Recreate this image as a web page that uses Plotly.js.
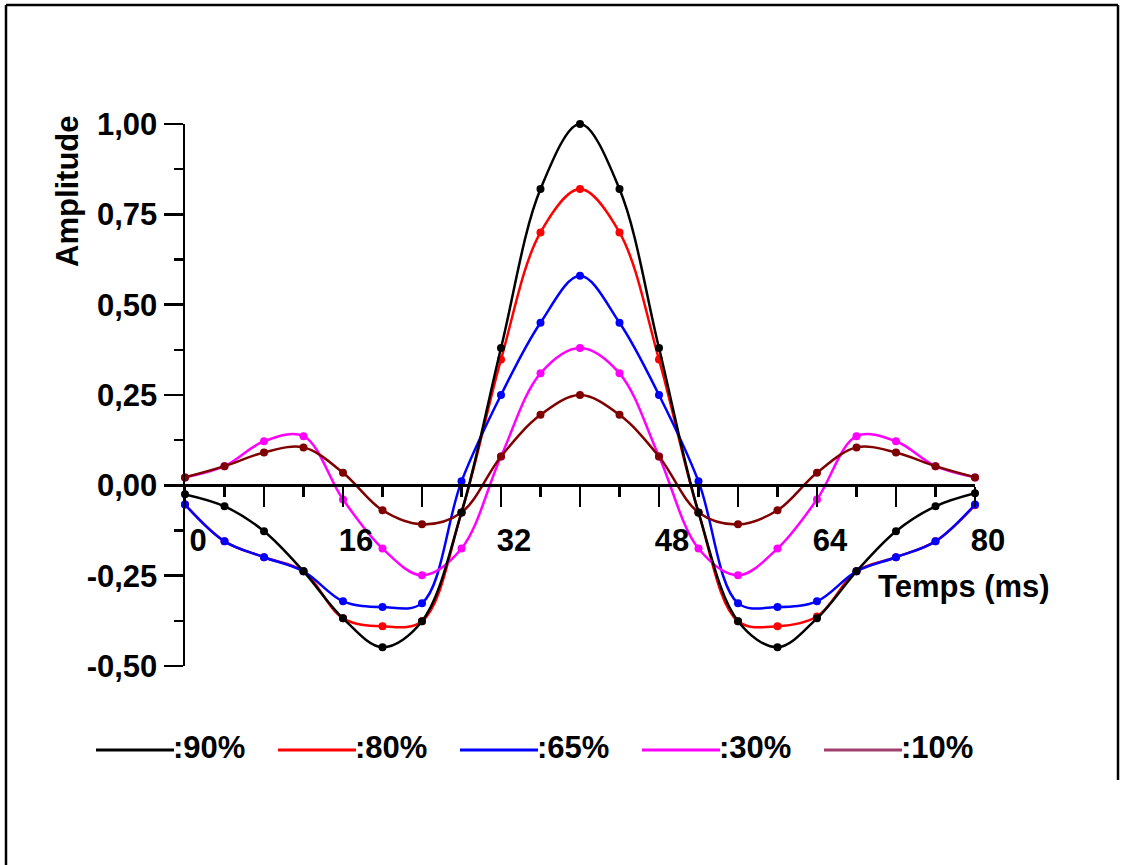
<!DOCTYPE html>
<html><head><meta charset="utf-8">
<script src="https://cdn.plot.ly/plotly-3.0.1.min.js"></script>
<style>html,body{margin:0;padding:0;background:#fff;overflow:hidden;} #chart{width:1125px;height:865px;}</style>
</head><body><div id="chart"></div>
<script>
// ---- data ----
const timeMs = [0,4,8,12,16,20,24,28,32,36,40,44,48,52,56,60,64,68,72,76,80];
const seriesNames = [':90%', ':80%', ':65%', ':30%', ':10%'];
const amp90 = [-0.025,-0.058,-0.127,-0.238,-0.368,-0.448,-0.376,-0.075,0.38,0.82,1.00,0.82,0.38,-0.075,-0.376,-0.448,-0.368,-0.238,-0.127,-0.058,-0.022];
const amp80 = [-0.053,-0.155,-0.199,-0.238,-0.368,-0.39,-0.376,-0.075,0.348,0.70,0.82,0.70,0.348,-0.075,-0.376,-0.39,-0.363,-0.238,-0.199,-0.155,-0.055];
const amp65 = [-0.053,-0.155,-0.199,-0.238,-0.321,-0.337,-0.326,0.011,0.25,0.45,0.58,0.45,0.25,0.011,-0.326,-0.337,-0.321,-0.238,-0.199,-0.155,-0.053];
const amp30 = [0.022,0.053,0.122,0.136,-0.039,-0.175,-0.249,-0.175,0.08,0.31,0.38,0.31,0.08,-0.175,-0.249,-0.175,-0.039,0.136,0.122,0.053,0.022];
const amp10 = [0.022,0.053,0.091,0.105,0.035,-0.069,-0.108,-0.075,0.08,0.195,0.25,0.195,0.08,-0.075,-0.108,-0.069,0.035,0.105,0.091,0.053,0.022];
const yTickVals = [-0.5,-0.25,0,0.25,0.5,0.75,1];
const yTickText = ['-0,50','-0,25','0,00','0,25','0,50','0,75','1,00'];
const xTitle = 'Temps (ms)';
const yTitle = 'Amplitude';

// ---- styling ----
const lineColors = ['#000000','#ff0000','#0000ff','#ff00ff','#800000'];
const legendColors = ['#000000','#ff0000','#0000ff','#ff00ff','#a0406e'];
const allSeries = [amp90, amp80, amp65, amp30, amp10];
const FONT = 'Liberation Sans, Arial, Helvetica, sans-serif';
const FS = 31;

const W = 1125, H = 865;
const M = {l:185, r:150, t:124, b:199};
const PW = W - M.l - M.r, PH = H - M.t - M.b;
const px = v => (v - M.l) / PW;
const py = v => (H - M.b - v) / PH;

// draw order: red, blue, magenta, dark red, black on top
const order = [1,2,3,4,0];
const traces = order.map(i => ({
  type:'scatter', mode:'lines+markers', x: timeMs, y: allSeries[i], name: seriesNames[i],
  line:{color: lineColors[i], width:2.5, shape:'spline', smoothing:1},
  marker:{color: lineColors[i], size:8},
  cliponaxis:false, showlegend:false, hoverinfo:'skip'
}));

const shapes = [];
const annotations = [];
// outer frame
shapes.push({type:'line', xref:'paper', yref:'paper', x0:px(6), x1:px(6), y0:py(5), y1:py(865), line:{color:'#000', width:2.5}});
shapes.push({type:'line', xref:'paper', yref:'paper', x0:px(6), x1:px(1118), y0:py(5), y1:py(5), line:{color:'#000', width:2.5}});
shapes.push({type:'line', xref:'paper', yref:'paper', x0:px(1118), x1:px(1118), y0:py(5), y1:py(780), line:{color:'#000', width:2.5}});

// legend drawn by hand (long line samples)
seriesNames.forEach((nm, i) => {
  const x0 = 96 + 182*i, x1 = x0 + 78;
  shapes.push({type:'line', xref:'paper', yref:'paper', x0:px(x0), x1:px(x1), y0:py(750), y1:py(750), line:{color: legendColors[i], width:3}});
  annotations.push({xref:'paper', yref:'paper', x:px(x1-3), y:py(747), xanchor:'left', yanchor:'middle', showarrow:false,
    text: nm, font:{family:FONT, size:FS, color:'#000', weight:'bold'}});
});
// axis titles
annotations.push({xref:'paper', yref:'paper', x:px(67), y:py(191), xanchor:'center', yanchor:'middle', showarrow:false, textangle:-90,
  text: yTitle, font:{family:FONT, size:FS, color:'#000', weight:'bold'}});
annotations.push({xref:'paper', yref:'paper', x:px(876), y:py(586), xanchor:'left', yanchor:'middle', showarrow:false,
  text: xTitle, font:{family:FONT, size:FS, color:'#000', weight:'bold'}});

const layout = {
  width: W, height: H, margin: M,
  paper_bgcolor:'#fff', plot_bgcolor:'#fff',
  font:{family:FONT, size:FS, color:'#000', weight:'bold'},
  showlegend:false,
  xaxis:{
    range:[0,80], anchor:'free', position: 0.5/1.5,
    showline:true, linecolor:'#000', linewidth:2.5,
    showgrid:false, zeroline:false,
    tickmode:'linear', tick0:0, dtick:8, ticklabelstep:2,
    ticks:'outside', ticklen:20, tickwidth:2.5, tickcolor:'#000',
    ticklabelshift:13, ticklabelstandoff:7,
    tickfont:{family:FONT, size:FS, color:'#000', weight:'bold'},
    minor:{tickmode:'linear', tick0:0, dtick:4, ticks:'outside', ticklen:10, tickwidth:2.5, tickcolor:'#000'}
  },
  yaxis:{
    range:[-0.5,1.0],
    showline:true, linecolor:'#000', linewidth:2.5,
    showgrid:false, zeroline:false,
    tickmode:'array', tickvals:yTickVals, ticktext:yTickText,
    ticks:'outside', ticklen:19, tickwidth:2.5, tickcolor:'#000',
    ticklabelstandoff:0,
    tickfont:{family:FONT, size:FS, color:'#000', weight:'bold'},
    minor:{tickmode:'linear', tick0:0, dtick:0.125, ticks:'outside', ticklen:9, tickwidth:2.5, tickcolor:'#000'}
  },
  shapes: shapes,
  annotations: annotations
};

Plotly.newPlot('chart', traces, layout, {staticPlot:true, displayModeBar:false});
</script>
</body></html>
